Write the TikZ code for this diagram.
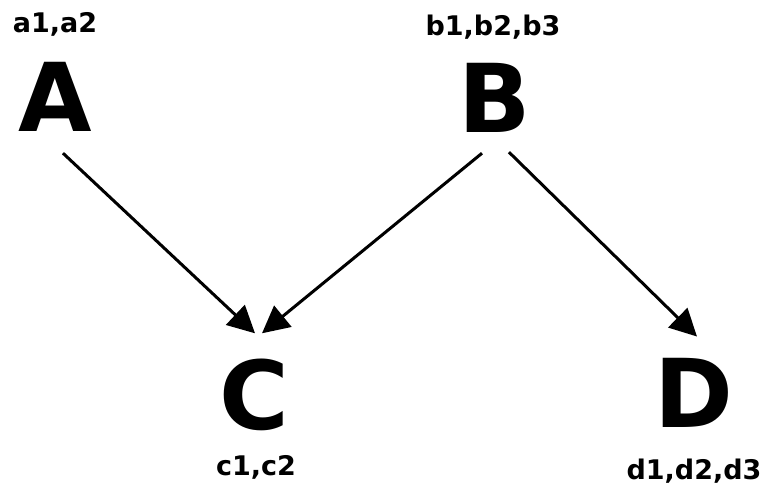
\documentclass[tikz,border=0pt]{standalone}
\usepackage{fontspec}
\setmainfont{DejaVu Sans}
\usepackage{tikz}
\usetikzlibrary{arrows.meta}
\tikzstyle{Var}=[inner sep=0pt, anchor=base, font=\fontsize{95}{95}\selectfont\bfseries]
\tikzstyle{Vals}=[inner sep=0pt, anchor=base, font=\fontsize{27}{27}\selectfont\bfseries]
\tikzstyle{Dep}=[line width=3pt, -{Triangle[length=27pt,width=27pt]}]

\begin{document}
\begin{tikzpicture}[x=1pt, y=1pt]
    \useasboundingbox (0,0) rectangle (761,487);
    \path
    (55,355) node[Var] (A) {A}
    (495,354) node[Var] (B) {B}
    (254,57) node[Var] (C) {C}
    (694,59) node[Var] (D) {D};

    \path (55,454) node[Vals] (valsA) {a1,a2}
    (493,451) node[Vals] (valsB) {b1,b2,b3}
    (256,11) node[Vals] (valsC) {c1,c2}
    (694,7) node[Vals] (valsD) {d1,d2,d3};

    \draw[Dep] ([shift={(8pt,-21pt)}]A.south) -- ([shift={(1pt,26pt)}]C.north);
    \draw[Dep] ([shift={(-13pt,-20pt)}]B.south) -- ([shift={(8pt,26pt)}]C.north);
    \draw[Dep] ([shift={(14pt,-19pt)}]B.south) -- ([shift={(3pt,22pt)}]D.north);
\end{tikzpicture}
\end{document}
